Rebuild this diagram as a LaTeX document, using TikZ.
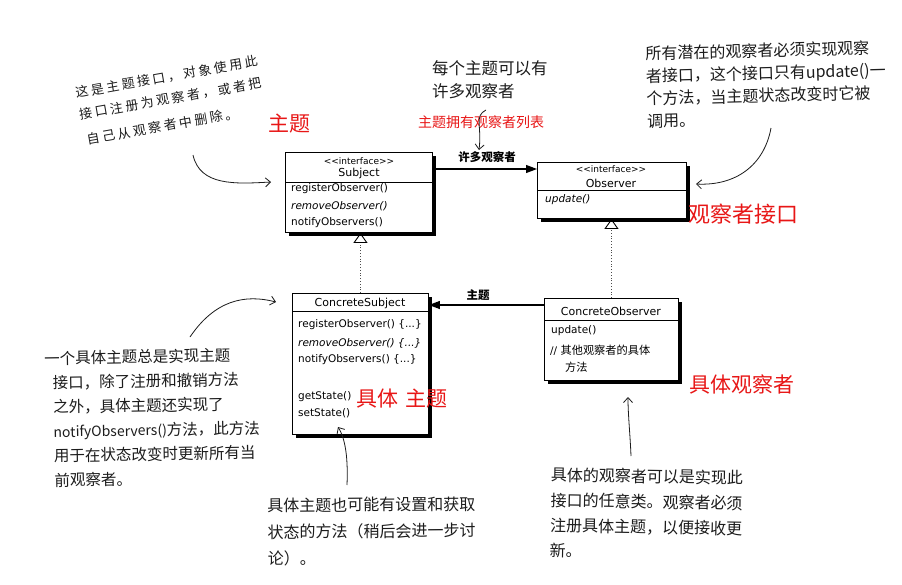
\documentclass[tikz,border=0pt]{standalone}
\usepackage{fontspec}
\setmainfont{DejaVu Sans}[Ligatures=TeXOff]
\newfontfamily\cjk{Noto Sans CJK SC}
\usetikzlibrary{arrows.meta,shadows,calc}
\definecolor{redlbl}{RGB}{232,22,22}
\definecolor{ink}{RGB}{28,28,28}
\newcommand\spreadcjk[1]{\spreadcjkaux#1\relax}
\def\spreadcjkaux#1{\ifx\relax#1\else\makebox[15.6pt]{#1}\expandafter\spreadcjkaux\fi}
\begin{document}
\begin{tikzpicture}[x=1pt,y=-1pt,
  umlbox/.style={draw=black,line width=0.9pt,fill=white,rectangle,inner sep=0,anchor=north west,
    drop shadow={shadow xshift=3.5pt,shadow yshift=-3.5pt,fill=black,opacity=1}},
  stereo/.style={font=\fontsize{9}{9}\selectfont,inner sep=0},
  umltitle/.style={font=\fontsize{11}{11}\selectfont,inner sep=0},
  meth/.style={font=\fontsize{10.5}{10.5}\selectfont,inner sep=0,anchor=west},
  sep/.style={line width=0.7pt},
  assoc/.style={line width=1.1pt,-{Triangle[length=11pt,width=8pt]}},
  realize/.style={line width=0.8pt,dotted,draw=black!70,-{Triangle[open,length=10pt,width=14pt,line width=0.9pt,color=black]}},
  assoclbl/.style={font=\cjk\bfseries\fontsize{11.5}{11.5}\selectfont,inner sep=0},
  redbig/.style={font=\cjk\fontsize{21}{21}\selectfont,text=redlbl,inner sep=0},
  hand/.style={text=ink,inner sep=0,anchor=north west,align=left},
  handarrow/.style={line width=0.8pt,draw=ink,-{Straight Barb[length=5pt,width=9pt,line width=0.8pt]}}
]
\useasboundingbox[fill=white] (0,0) rectangle (902,584);

% ---------- UML boxes ----------
\node[umlbox,minimum width=147pt,minimum height=80pt] (subj) at (285,152) {};
\node[umlbox,minimum width=149pt,minimum height=56pt] (obs) at (537,162) {};
\node[umlbox,minimum width=136pt,minimum height=141pt] (cs) at (292,293) {};
\node[umlbox,minimum width=134pt,minimum height=82pt] (co) at (544,298) {};

% Subject
\node[stereo] (s1) at (359,161) {<<interface>>};
\node[umltitle] (s2) at (359,173) {Subject};
\draw[sep] (subj.west |- 0,182) -- (subj.east |- 0,182);
\node[meth] (s3) at (291,189) {registerObserver()};
\node[meth] (s4) at (291,206) {\itshape removeObserver()};
\node[meth] (s5) at (291,223) {notifyObservers()};

% Observer
\node[stereo] (o1) at (611,169) {<<interface>>};
\node[umltitle] (o2) at (611,183) {Observer};
\draw[sep] (obs.west |- 0,190) -- (obs.east |- 0,190);
\node[meth] (o3) at (545,200) {\itshape update()};

% ConcreteSubject
\node[umltitle] (c1) at (360,303) {ConcreteSubject};
\draw[sep] (cs.west |- 0,311) -- (cs.east |- 0,311);
\node[meth] (c2) at (298,325) {registerObserver() \{...\}};
\node[meth] (c3) at (298,343) {\itshape removeObserver() \{...\}};
\node[meth] (c4) at (298,360) {notifyObservers() \{...\}};
\node[meth] (c5) at (298,397) {getState()};
\node[meth] (c6) at (298,413) {setState()};

% ConcreteObserver
\node[umltitle] (d1) at (611,311) {ConcreteObserver};
\draw[sep] (co.west |- 0,320) -- (co.east |- 0,320);
\node[meth] (d2) at (551,331) {update()};
\node[meth] (d3) at (550,350) {// {\cjk\fontsize{11.2}{11.2}\selectfont 其他观察者的具体}};
\node[meth] (d4) at (565,367) {{\cjk\fontsize{11.2}{11.2}\selectfont 方法}};

% ---------- connectors ----------
\draw[assoc] (subj.east |- 0,169) -- (obs.west |- 0,169);
\node[assoclbl] (l1) at (487,157) {许多观察者};
\draw[assoc] (co.west |- 0,305) -- (cs.east |- 0,305);
\node[assoclbl] (l2) at (478,295) {主题};
\draw[realize] (cs.north) -- (cs.north |- subj.south);
\draw[realize] (co.north) -- (co.north |- obs.south);

% ---------- red labels ----------
\node[redbig] (r1) at (289,124) {主题};
\node[font=\cjk\fontsize{14}{14}\selectfont,text=redlbl,inner sep=0] (r2) at (481,122) {主题拥有观察者列表};
\node[redbig,font=\cjk\fontsize{22}{22}\selectfont] (r3) at (743,214) {观察者接口};
\node[redbig] (r4) at (402,399) {具体\hspace{8pt}主题};
\node[redbig] (r5) at (742,384) {具体观察者};

% ---------- handwritten notes ----------
\node[hand,rotate=10,font=\cjk\fontsize{13}{22}\selectfont] (n1) at (73,87)
  {\spreadcjk{这是主题接口，对象使用此}\\ \spreadcjk{接口注册为观察者，或者把}\\[4pt] \hspace*{3pt}\spreadcjk{自己从观察者中删除。}};

\node[hand,font=\cjk\fontsize{16.5}{23}\selectfont] (n2) at (432,60)
  {每个主题可以有\\ 许多观察者};

\node[hand,rotate=1.5,font=\cjk\fontsize{16}{22.5}\selectfont] (n3) at (645,46)
  {所有潜在的观察者必须实现观察\\ 者接口，这个接口只有update()一\\ 个方法，当主题状态改变时它被\\ 调用。};

\node[hand,rotate=1,font=\cjk\fontsize{15.5}{24.4}\selectfont] (n4) at (44,351)
  {一个具体主题总是实现主题\\
   \hspace*{8pt}接口，除了注册和撤销方法\\
   \hspace*{8pt}之外，具体主题还实现了\\
   \hspace*{8pt}{\fontsize{14}{14}\selectfont notifyObservers()}方法，此方法\\
   \hspace*{8pt}用于在状态改变时更新所有当\\
   \hspace*{8pt}前观察者。};

\node[hand,rotate=0.5,font=\cjk\fontsize{16}{26.5}\selectfont] (n5) at (267,498)
  {具体主题也可能有设置和获取\\ 状态的方法（稍后会进一步讨\\ 论）。};

\node[hand,rotate=-1,font=\cjk\fontsize{16}{25.3}\selectfont] (n6) at (551,467)
  {具体的观察者可以是实现此\\ 接口的任意类。观察者必须\\ 注册具体主题，以便接收更\\ 新。};

% ---------- note arrows ----------
\coordinate (a1s) at (193,155); \coordinate (a1e) at (271,182);
\draw[handarrow] (a1s) .. controls (200,186) and (235,184) .. (a1e);
\coordinate (a2s) at (486,110); \coordinate (a2e) at (479,150);
\draw[handarrow] (a2s) .. controls (474,116) and (482,126) .. (a2e);
\coordinate (a3s) at (771,128); \coordinate (a3e) at (696,184);
\draw[handarrow] (a3s) .. controls (764,166) and (735,186) .. (a3e);
\coordinate (a4s) at (190,337); \coordinate (a4e) at (276,302);
\draw[handarrow] (a4s) .. controls (215,300) and (245,294) .. (a4e);
\coordinate (a5s) at (347,485); \coordinate (a5e) at (338,427);
\draw[handarrow] (a5s) .. controls (348,460) and (346,440) .. (a5e);
\coordinate (a6s) at (631,456); \coordinate (a6e) at (628,397);
\draw[handarrow] (a6s) .. controls (630,432) and (628,415) .. (a6e);
\end{tikzpicture}
\end{document}
